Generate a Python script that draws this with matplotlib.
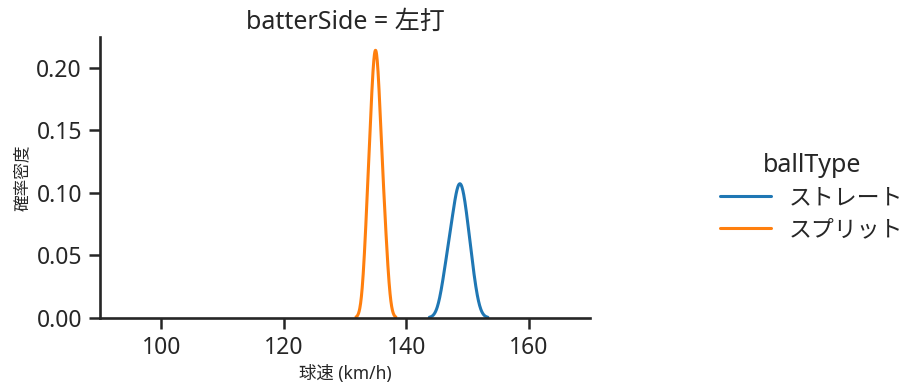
import matplotlib
matplotlib.use("Agg")
import matplotlib.pyplot as plt
from matplotlib.lines import Line2D
import numpy as np
import pandas as pd
import seaborn as sns

# pitch speeds (km/h), batterSide = 左打
straight_speeds = [146.6, 147.8, 148.4, 149.0, 149.4, 150.5]
split_speeds = [133.6, 134.2, 134.6, 134.9, 135.1, 135.4, 135.8, 136.5]
ball_types = ["ストレート", "スプリット"]
colors = ["#1f77b4", "#ff7f0e"]

df = pd.DataFrame({
    "球速": straight_speeds + split_speeds,
    "ballType": [ball_types[0]] * len(straight_speeds) + [ball_types[1]] * len(split_speeds),
    "batterSide": "左打",
})

sns.set_style("ticks")
plt.rcParams["font.family"] = ["Noto Sans", "Noto Sans CJK JP", "DejaVu Sans"]

fig = plt.figure(figsize=(9.21, 3.91), dpi=100)
ax = fig.add_axes([100 / 921, 1 - 317.7 / 391, 490 / 921, (317.7 - 37) / 391])

sns.kdeplot(data=df, x="球速", hue="ballType", hue_order=ball_types,
            palette=colors, common_norm=True, linewidth=2.2, legend=False, ax=ax)

ax.set_xlim(90, 170)
ax.set_xticks([100, 120, 140, 160])
ax.set_yticks([0.0, 0.05, 0.10, 0.15, 0.20])
ax.set_yticklabels(["0.00", "0.05", "0.10", "0.15", "0.20"])
ax.tick_params(labelsize=16.5, length=8, width=1.8, pad=5)
for s in ["left", "bottom"]:
    ax.spines[s].set_linewidth(1.9)
sns.despine(ax=ax)

ax.set_xlabel("球速 (km/h)", fontsize=12.5)
ax.set_ylabel("確率密度", fontsize=12)
ax.set_title("batterSide = 左打", fontsize=18)

handles = [Line2D([], [], color=c, linewidth=2.2) for c in colors]
fig.legend(handles, ball_types, title="ballType", loc="center",
           bbox_to_anchor=(812 / 921, 1 - 198 / 391), frameon=False,
           fontsize=16.5, title_fontsize=18, handlelength=2.2,
           labelspacing=0.35)

fig.savefig("out.png", dpi=100)
